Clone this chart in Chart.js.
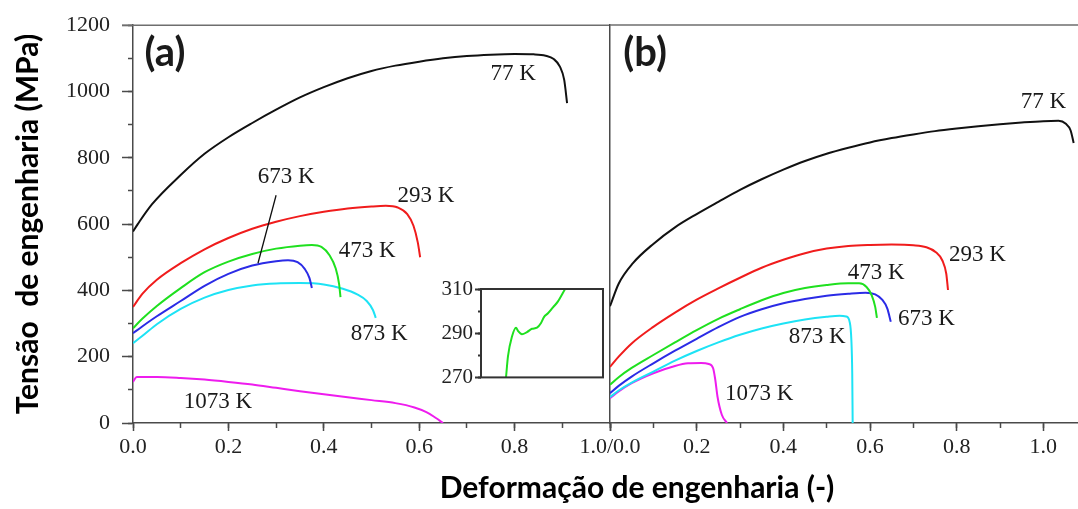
<!DOCTYPE html>
<html>
<head>
<meta charset="utf-8">
<script src="https://cdn.jsdelivr.net/npm/chart.js@4.4.1/dist/chart.umd.min.js"></script>
<style>
  body { margin: 0; background: #fff; }
  #wrap { position: relative; width: 1078px; height: 509px; overflow: hidden; }
  canvas { position: absolute; left: 0; top: 0; }
  #inset { left: 420px; top: 274px; }
  #xtitle { position: absolute; left: 337px; width: 600px; top: 468px; text-align: center;
            font: bold 30px Lato, 'Open Sans', sans-serif; color: #000; white-space: nowrap; }
</style>
</head>
<body>
<div id="wrap">
  <canvas id="panelA" width="1078" height="509"></canvas>
  <canvas id="panelB" width="1078" height="509"></canvas>
  <canvas id="inset" width="190" height="118"></canvas>
  <div id="xtitle">Deformação de engenharia (-)</div>
</div>
<script>
// (a) curves: [strain, stress MPa]
const a77 = [[0, 578], [0.01, 600], [0.04, 660], [0.1, 748], [0.15, 812], [0.2, 862], [0.25, 905], [0.3, 945], [0.35, 982], [0.4, 1013], [0.45, 1040], [0.5, 1062], [0.55, 1078], [0.6, 1090], [0.65, 1100], [0.7, 1107], [0.75, 1111], [0.8, 1113], [0.84, 1112], [0.865, 1108], [0.882, 1098], [0.895, 1075], [0.904, 1035], [0.91, 965]]
const a293 = [[0, 350], [0.02, 390], [0.05, 432], [0.1, 482], [0.15, 524], [0.2, 558], [0.25, 586], [0.3, 607], [0.35, 624], [0.4, 637], [0.45, 647], [0.5, 653], [0.53, 655], [0.555, 650], [0.575, 630], [0.588, 595], [0.597, 545], [0.602, 500]]
const a473 = [[0, 286], [0.02, 315], [0.05, 353], [0.1, 407], [0.15, 455], [0.2, 487], [0.25, 510], [0.3, 526], [0.35, 535], [0.375, 537], [0.395, 531], [0.412, 506], [0.425, 466], [0.432, 420], [0.435, 380]]
const a673 = [[0, 271], [0.02, 292], [0.05, 322], [0.1, 368], [0.15, 414], [0.2, 450], [0.25, 475], [0.3, 488], [0.325, 491], [0.345, 485], [0.36, 465], [0.37, 437], [0.375, 407]]
const a873 = [[0, 241], [0.02, 263], [0.05, 298], [0.1, 344], [0.15, 378], [0.2, 401], [0.25, 415], [0.3, 421], [0.35, 422], [0.4, 418], [0.44, 405], [0.47, 388], [0.49, 368], [0.503, 341], [0.509, 317]]
const a1073 = [[0, 124], [0.008, 139], [0.05, 139], [0.1, 136], [0.15, 131], [0.2, 124], [0.25, 116], [0.3, 106], [0.35, 96], [0.4, 87], [0.45, 78], [0.5, 69], [0.55, 60], [0.59, 47], [0.615, 33], [0.635, 15], [0.65, 0]]

// (b) curves
const b77 = [[0, 352], [0.02, 420], [0.053, 482], [0.1, 540], [0.15, 590], [0.2, 630], [0.25, 667], [0.3, 703], [0.35, 735], [0.4, 764], [0.45, 790], [0.5, 812], [0.55, 830], [0.6, 846], [0.65, 859], [0.7, 870], [0.75, 880], [0.8, 888], [0.85, 895], [0.9, 901], [0.95, 906], [1.0, 910], [1.035, 911], [1.052, 902], [1.063, 882], [1.07, 844]]
const b293 = [[0, 169], [0.02, 200], [0.05, 240], [0.1, 290], [0.15, 333], [0.2, 372], [0.25, 406], [0.3, 438], [0.35, 468], [0.4, 492], [0.45, 512], [0.5, 526], [0.55, 534], [0.6, 537], [0.65, 538], [0.7, 536], [0.73, 530], [0.752, 515], [0.767, 490], [0.776, 450], [0.78, 401]]
const b473 = [[0, 115], [0.02, 138], [0.05, 166], [0.1, 205], [0.15, 243], [0.2, 280], [0.25, 314], [0.3, 343], [0.35, 370], [0.4, 392], [0.45, 407], [0.5, 416], [0.55, 421], [0.575, 421], [0.592, 410], [0.604, 385], [0.612, 350], [0.616, 317]]
const b673 = [[0, 90], [0.02, 112], [0.05, 140], [0.1, 180], [0.15, 218], [0.2, 254], [0.25, 289], [0.3, 320], [0.35, 343], [0.4, 361], [0.45, 374], [0.5, 384], [0.55, 390], [0.59, 393], [0.612, 388], [0.628, 372], [0.64, 345], [0.648, 305]]
const b873 = [[0, 78], [0.02, 98], [0.05, 122], [0.1, 155], [0.15, 188], [0.2, 217], [0.25, 243], [0.3, 266], [0.35, 285], [0.4, 300], [0.45, 312], [0.5, 320], [0.53, 323], [0.545, 321], [0.553, 305], [0.557, 250], [0.559, 150], [0.56, 0]]
const b1073 = [[0, 75], [0.02, 95], [0.05, 120], [0.1, 150], [0.15, 172], [0.18, 180], [0.21, 181], [0.228, 178], [0.238, 165], [0.243, 130], [0.248, 80], [0.258, 25], [0.27, 0]]

// inset: yield drop on the 473 K curve
const insetX = [0.205, 0.221, 0.254, 0.287, 0.303, 0.336, 0.377, 0.418, 0.459, 0.492, 0.516, 0.549, 0.590, 0.631, 0.689]
const insetY = [270, 279.5, 288.5, 292.5, 291, 289.5, 290.5, 292, 292.5, 294.6, 297.3, 299, 301.7, 304.4, 310]

const temps = ['77 K', '293 K', '473 K', '673 K', '873 K', '1073 K']
const colors = ['#111111', '#f01c1c', '#1fe01f', '#2b2be6', '#1de3f5', '#ee1cee']

// label anchors [strain, stress]
const labelsA = [[0.797, 1052], [0.614, 684], [0.491, 519], [0.321, 742], [0.516, 268], [0.178, 63]]
const labelsB = [[1.0, 968], [0.848, 506], [0.614, 452], [0.730, 314], [0.478, 259], [0.344, 87]]

const serif = "'Liberation Serif', 'Times New Roman', serif"
const sans = "Lato, 'Open Sans', sans-serif"
const axisColor = '#4a4a4a'

function curve(label, pts, color) {
  return {
    label: label,
    data: pts.map(p => ({ x: p[0], y: p[1] })),
    borderColor: color,
    borderWidth: 2,
    pointRadius: 0,
    fill: false,
    cubicInterpolationMode: 'monotone'
  }
}

// text labels, leader line and top frame
const notes = {
  id: 'notes',
  afterDatasetsDraw(chart, args, opts) {
    const ctx = chart.ctx
    const x = chart.scales.x
    const y = chart.scales.y
    const area = chart.chartArea
    ctx.save()
    ctx.strokeStyle = '#6e6e6e'
    ctx.lineWidth = 1.5
    ctx.beginPath()
    ctx.moveTo(area.left - (opts.frameLeft || 0), area.top)
    ctx.lineTo(area.right, area.top)
    ctx.stroke()
    ;(opts.lines || []).forEach(l => {
      ctx.strokeStyle = '#111'
      ctx.lineWidth = 1.3
      ctx.beginPath()
      ctx.moveTo(x.getPixelForValue(l[0]), y.getPixelForValue(l[1]))
      ctx.lineTo(x.getPixelForValue(l[2]), y.getPixelForValue(l[3]))
      ctx.stroke()
    })
    ctx.textAlign = 'center'
    ctx.textBaseline = 'middle'
    ;(opts.texts || []).forEach(t => {
      ctx.font = t.font
      ctx.fillStyle = '#1a1a1a'
      ctx.fillText(t.text, x.getPixelForValue(t.x), y.getPixelForValue(t.y))
    })
    ctx.restore()
  }
}

function panelTexts(letter, at, anchors) {
  const out = [{ text: letter, x: at[0], y: at[1], font: 'bold 40px ' + sans }]
  temps.forEach((t, i) => out.push({ text: t, x: anchors[i][0], y: anchors[i][1], font: '23px ' + serif }))
  return out
}

function fixWidth(w) { return s => { s.width = w } }
function fixHeight(h) { return s => { s.height = h } }

function xAxes(max, labelFn) {
  return {
    x: {
      type: 'linear', position: 'bottom', weight: 1, min: 0, max: max,
      afterFit: fixHeight(86),
      border: { color: axisColor, width: 1.5 },
      grid: { drawOnChartArea: false, tickLength: 8, color: axisColor, tickWidth: 1.5 },
      ticks: { stepSize: 0.2, includeBounds: false, maxRotation: 0, autoSkip: false, padding: 3,
               color: '#222', font: { family: serif, size: 22 }, callback: labelFn }
    },
    xm: {
      type: 'linear', position: 'bottom', weight: 0, min: 0, max: max,
      afterFit: fixHeight(0),
      border: { display: false },
      grid: { drawOnChartArea: false, tickLength: 5, color: axisColor, tickWidth: 1.5 },
      ticks: { stepSize: 0.1, includeBounds: false, display: false }
    }
  }
}

const datasetsA = [a77, a293, a473, a673, a873, a1073].map((d, i) => curve(temps[i], d, colors[i]))
const datasetsB = [b77, b293, b473, b673, b873, b1073].map((d, i) => curve(temps[i], d, colors[i]))

const chartA = new Chart(document.getElementById('panelA'), {
  type: 'line',
  data: { datasets: datasetsA },
  plugins: [notes],
  options: {
    responsive: false, animation: false,
    layout: { padding: { top: 25, right: 468, bottom: 0, left: 0 } },
    plugins: {
      legend: { display: false }, tooltip: { enabled: false },
      notes: {
        frameLeft: 11,
        lines: [[0.300, 687, 0.262, 482]],
        texts: panelTexts('(a)', [0.067, 1115], labelsA)
      }
    },
    scales: Object.assign(xAxes(1.0, v => Math.abs(v - 1) < 1e-6 ? '' : v.toFixed(1)), {
      y: {
        position: 'left', weight: 1, min: 0, max: 1200,
        afterFit: fixWidth(133),
        border: { color: axisColor, width: 1.5 },
        grid: { drawOnChartArea: false, tickLength: 11, color: axisColor, tickWidth: 1.5 },
        ticks: { stepSize: 200, padding: 12, color: '#222', font: { family: serif, size: 22 },
                 callback: v => String(v) },
        title: { display: true, text: 'Tensão  de engenharia (MPa)', color: '#000',
                 font: { family: sans, weight: 'bold', size: 30 }, padding: { top: 10, bottom: 0 } }
      },
      ym: {
        position: 'left', weight: 0, min: 0, max: 1200,
        afterFit: fixWidth(0),
        border: { display: false },
        grid: { drawOnChartArea: false, tickLength: 5, color: axisColor, tickWidth: 1.5 },
        ticks: { stepSize: 100, display: false }
      }
    })
  }
})

const chartB = new Chart(document.getElementById('panelB'), {
  type: 'line',
  data: { datasets: datasetsB },
  plugins: [notes],
  options: {
    responsive: false, animation: false,
    layout: { padding: { top: 25, right: 0, bottom: 0, left: 0 } },
    plugins: {
      legend: { display: false }, tooltip: { enabled: false },
      notes: { texts: panelTexts('(b)', [0.081, 1115], labelsB) }
    },
    scales: Object.assign(xAxes(1.08, v => Math.abs(v) < 1e-6 ? '1.0/0.0' : v.toFixed(1)), {
      y: {
        position: 'left', min: 0, max: 1200,
        afterFit: fixWidth(610),
        border: { color: axisColor, width: 1.5 },
        grid: { drawOnChartArea: false, drawTicks: false },
        ticks: { display: false, stepSize: 200 }
      }
    })
  }
})

// inset frame
const boxFrame = {
  id: 'boxFrame',
  afterDatasetsDraw(chart) {
    const a = chart.chartArea
    const ctx = chart.ctx
    ctx.save()
    ctx.strokeStyle = '#333'
    ctx.lineWidth = 2
    ctx.strokeRect(a.left, a.top, a.right - a.left, a.bottom - a.top)
    ctx.restore()
  }
}

const chartInset = new Chart(document.getElementById('inset'), {
  type: 'line',
  data: { datasets: [curve('473 K', insetX.map((v, i) => [v, insetY[i]]), colors[2])] },
  plugins: [boxFrame],
  options: {
    responsive: false, animation: false,
    layout: { padding: { top: 15, right: 7, bottom: 14, left: 0 } },
    plugins: { legend: { display: false }, tooltip: { enabled: false } },
    scales: {
      x: { type: 'linear', min: 0, max: 1, display: false },
      y: {
        position: 'left', weight: 1, min: 270, max: 310,
        afterFit: fixWidth(61),
        border: { display: false },
        grid: { drawOnChartArea: false, tickLength: 6, color: '#333', tickWidth: 2 },
        ticks: { stepSize: 20, padding: 2, color: '#222', font: { family: serif, size: 21 } }
      },
      ym: {
        position: 'left', weight: 0, min: 270, max: 310,
        afterFit: fixWidth(0),
        border: { display: false },
        grid: { drawOnChartArea: false, tickLength: 3, color: '#333', tickWidth: 2 },
        ticks: { stepSize: 10, display: false }
      }
    }
  }
})
</script>
</body>
</html>
